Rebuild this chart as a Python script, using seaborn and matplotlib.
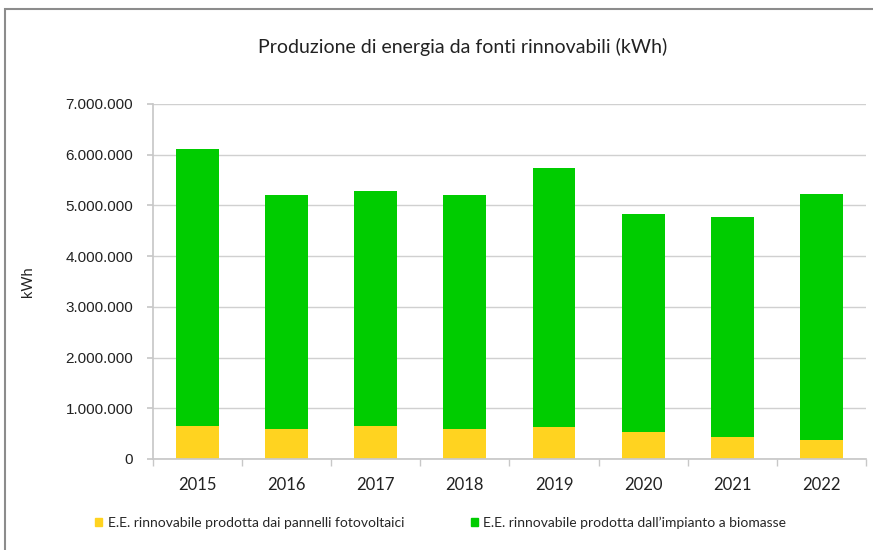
import matplotlib
matplotlib.use('Agg')
import matplotlib.pyplot as plt
import matplotlib.ticker as mticker
from matplotlib.patches import Rectangle, Patch
import seaborn as sns
import pandas as pd

#data (kWh)
years = ['2015', '2016', '2017', '2018', '2019', '2020', '2021', '2022']
fotovoltaico = [660000, 595000, 660000, 600000, 630000, 540000, 440000, 370000]
biomasse = [5460000, 4615000, 4620000, 4600000, 5110000, 4300000, 4330000, 4860000]
ticks_y = [0, 1000000, 2000000, 3000000, 4000000, 5000000, 6000000, 7000000]

label_fv = 'E.E. rinnovabile prodotta dai pannelli fotovoltaici'
label_bio = 'E.E. rinnovabile prodotta dall\u2019impianto a biomasse'
col_fv = '#FFD320'
col_bio = '#00CC00'

df = pd.DataFrame({'Anno': years, 'FV': fotovoltaico, 'BIO': biomasse})
df['Totale'] = df['FV'] + df['BIO']

sns.set_theme(style='white')
plt.rcParams['font.family'] = ['Lato', 'DejaVu Sans']

fig = plt.figure(figsize=(8.73, 5.5), dpi=100)
ax = fig.add_axes([0.175, 0.1655, 0.817, 0.6455])

#stacked bars: total in green, photovoltaic drawn on top from zero
sns.barplot(data=df, x='Anno', y='Totale', color=col_bio, saturation=1, width=0.48, linewidth=0, ax=ax)
sns.barplot(data=df, x='Anno', y='FV', color=col_fv, saturation=1, width=0.48, linewidth=0, ax=ax)

ax.set_ylim(0, 7000000)
ax.set_xlim(-0.5, len(years) - 0.5)
ax.set_yticks(ticks_y)
ax.yaxis.set_major_formatter(mticker.FuncFormatter(lambda v, p: f'{int(v):,}'.replace(',', '.')))
ax.grid(axis='y', color='#D0D0D0', linewidth=1)
ax.set_axisbelow(True)

for s in ['top', 'right']:
  ax.spines[s].set_visible(False)
ax.spines['left'].set_color('#C8C8C8')
ax.spines['bottom'].set_color('#C8C8C8')

#x ticks between categories like excel
ax.set_xticks(range(len(years)))
ax.set_xticklabels(years, fontsize=12, color='#222222')
ax.xaxis.set_minor_locator(mticker.FixedLocator([i - 0.5 for i in range(len(years) + 1)]))
ax.tick_params(axis='x', which='major', length=0, pad=13)
ax.tick_params(axis='x', which='minor', length=5, color='#C8C8C8', bottom=True)
ax.tick_params(axis='y', length=4, color='#C8C8C8', left=True, labelsize=11, labelcolor='#222222', pad=10)
for t in ax.get_yticklabels():
  t.set_family(['Liberation Sans'])

ax.set_xlabel('')
ax.set_ylabel('kWh', fontsize=10.5, color='#222222')
ax.yaxis.set_label_coords(-0.165, 0.5)

fig.text(0.53, 0.915, 'Produzione di energia da fonti rinnovabili (kWh)', ha='center', va='center', fontsize=14, color='#222222')

handles = [Patch(color=col_fv, label=label_fv), Patch(color=col_bio, label=label_bio)]
fig.legend(handles=handles, loc='center', bbox_to_anchor=(0.505, 0.05), ncol=2, frameon=False,
           fontsize=10, handlelength=0.5, handleheight=0.5, handletextpad=0.4, columnspacing=4.8)

#outer chart border
fig.patches.append(Rectangle((0.006, -0.01), 1.1, 0.993, transform=fig.transFigure, fill=False,
                             edgecolor='#8C8C8C', linewidth=1.5))

fig.savefig('out.png', dpi=100)
